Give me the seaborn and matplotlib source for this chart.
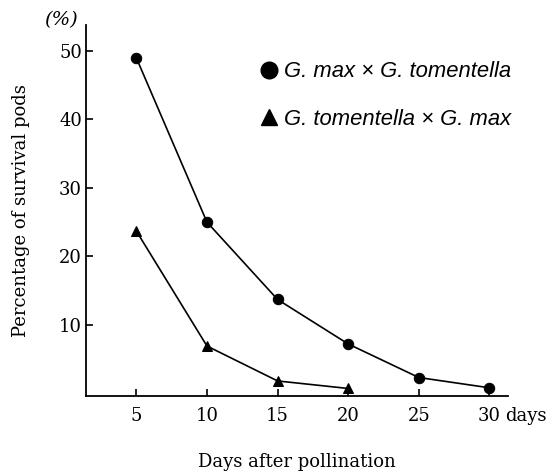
import matplotlib
matplotlib.use("Agg")
import matplotlib.pyplot as plt
import seaborn as sns
import pandas as pd
from matplotlib.lines import Line2D

# values
days_max_tom = [5, 10, 15, 20, 25, 30]
pct_max_tom = [49.0, 25.0, 13.7, 7.2, 2.3, 0.8]
days_tom_max = [5, 10, 15, 20]
pct_tom_max = [23.7, 6.9, 1.8, 0.7]
labels = ["G. max \u00d7 G. tomentella", "G. tomentella \u00d7 G. max"]
xticks = [5, 10, 15, 20, 25, 30]
yticks = [10, 20, 30, 40, 50]

df = pd.concat([
    pd.DataFrame({"day": days_max_tom, "pct": pct_max_tom, "cross": labels[0]}),
    pd.DataFrame({"day": days_tom_max, "pct": pct_tom_max, "cross": labels[1]}),
])

sns.set_style("ticks")
plt.rcParams["font.family"] = ["DejaVu Serif"]
plt.rcParams["text.color"] = "black"
plt.rcParams["axes.labelcolor"] = "black"

fig = plt.figure(figsize=(5.49, 4.72), dpi=100)
ax = fig.add_axes([0.157, 0.161, 0.768, 0.786])

sns.lineplot(data=df, x="day", y="pct", hue="cross", style="cross",
             markers={labels[0]: "o", labels[1]: "^"}, dashes=False,
             palette=["black", "black"], markersize=7.5, linewidth=1.2,
             markeredgecolor="black", legend=False, ax=ax)

ax.set_xlim(1.45, 31.3)
ax.set_ylim(-0.4, 53.8)
ax.set_xticks(xticks)
ax.set_yticks(yticks)
ax.tick_params(direction="in", length=5, width=1.2, labelsize=13, pad=8, colors="black")
ax.tick_params(axis="y", pad=3)
for s in ["top", "right"]:
    ax.spines[s].set_visible(False)
for s in ["left", "bottom"]:
    ax.spines[s].set_linewidth(1.3)
    ax.spines[s].set_color("black")

ax.set_xlabel("Days after pollination", fontsize=13, labelpad=20)
ax.set_ylabel("Percentage of survival pods", fontsize=13, labelpad=21)

ax.annotate("days", xy=(30, 0), xycoords=("data", "axes fraction"),
            xytext=(11, -8), textcoords="offset points",
            fontsize=13, ha="left", va="top")
ax.text(-0.059, 1.013, "(%)", transform=ax.transAxes, fontsize=14,
        ha="center", va="center", style="italic")

handles = [Line2D([], [], marker="o", color="black", linestyle="none", markersize=12),
           Line2D([], [], marker="^", color="black", linestyle="none", markersize=12)]
ax.legend(handles, labels, loc="upper left", bbox_to_anchor=(0.36, 0.955),
          frameon=False, handletextpad=0.2, labelspacing=1.2, handlelength=1.0,
          prop={"family": "Liberation Sans", "style": "italic", "size": 15.8})

fig.savefig("out.png", dpi=100)
